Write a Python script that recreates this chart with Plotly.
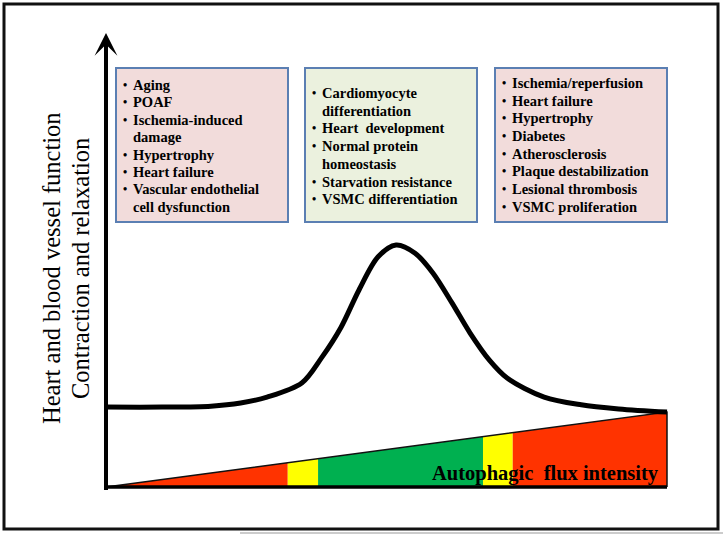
import plotly.graph_objects as go

# autophagic flux (x, 0-100) vs heart / vessel function (y, 0-100)
flux = [0, 10, 18.7, 24, 28.7, 34.9, 38.5, 41.9, 45.1, 48.5, 51.7, 55.1,
        58.3, 61.7, 64.9, 68.3, 71.5, 78.1, 84.7, 91.4, 100]
function = [17.6, 17.6, 17.8, 18.5, 19.8, 22.9, 28.6, 35.2, 43.4, 50.7, 53.3, 51.5,
            47.1, 40.5, 33.9, 28.0, 24.0, 19.8, 18.1, 17.2, 16.5]

# coloured wedge along the x axis
zone_edges = [0, 32.4, 37.8, 67.2, 72.5, 100]
zone_colors = ["#ff3300", "#ffff00", "#00b050", "#ffff00", "#ff3300"]
wedge_top = 16.5

box_lines = [
    ["• Aging", "• POAF", "• Ischemia-induced", "  damage", "• Hypertrophy",
     "• Heart failure", "• Vascular endothelial", "  cell dysfunction"],
    ["• Cardiomyocyte", "  differentiation", "• Heart  development", "• Normal protein",
     "  homeostasis", "• Starvation resistance", "• VSMC differentiation"],
    ["• Ischemia/reperfusion", "• Heart failure", "• Hypertrophy", "• Diabetes",
     "• Atherosclerosis", "• Plaque destabilization", "• Lesional thrombosis",
     "• VSMC proliferation"],
]
box_fills = ["#f2dcdb", "#ebf1de", "#f2dcdb"]

W, H = 723, 534
SERIF = "Liberation Serif, Times New Roman, serif"


def px(x):
    return x / W


def py(y):
    return 1 - y / H


fig = go.Figure()

# wedge zones
for i, col in enumerate(zone_colors):
    a, b = zone_edges[i], zone_edges[i + 1]
    fig.add_trace(go.Scatter(
        x=[a, b, b, a, a],
        y=[0, 0, wedge_top * b / 100, wedge_top * a / 100, 0],
        fill="toself", fillcolor=col, mode="none", hoverinfo="skip"))

# wedge outline
fig.add_trace(go.Scatter(
    x=[0, 100, 100], y=[0, wedge_top, 0], mode="lines",
    line=dict(color="#111111", width=1.5), hoverinfo="skip"))

# function curve
fig.add_trace(go.Scatter(
    x=flux, y=function, mode="lines",
    line=dict(color="black", width=5, shape="spline", smoothing=0.9)))

shapes = [
    # outer frame
    dict(type="rect", xref="paper", yref="paper", x0=px(4), x1=px(718), y0=py(529), y1=py(4),
         line=dict(color="#111111", width=3)),
    dict(type="line", xref="paper", yref="paper", x0=px(240), x1=px(723), y0=py(533), y1=py(533),
         line=dict(color="#cccccc", width=2)),
    # x axis baseline
    dict(type="line", xref="x", yref="y", x0=0, x1=100, y0=0, y1=0,
         line=dict(color="black", width=3.5)),
]

box_x = [(116, 288), (305, 477), (495, 667)]
box_first = [85, 93, 83]
box_step = [17.4, 17.7, 17.7]
annotations = []
for k, (x0, x1) in enumerate(box_x):
    shapes.append(dict(type="rect", xref="paper", yref="paper",
                       x0=px(x0), x1=px(x1), y0=py(222), y1=py(68),
                       fillcolor=box_fills[k], line=dict(color="#5b7fb3", width=2),
                       layer="below"))
    bx = x0 + 5
    for j, line in enumerate(box_lines[k]):
        yy = box_first[k] + j * box_step[k]
        if line.startswith("•"):
            annotations.append(dict(text="<b>•</b>", x=px(bx), y=py(yy), xref="paper", yref="paper",
                                    xanchor="left", yanchor="middle", showarrow=False,
                                    font=dict(family=SERIF, size=12, color="black")))
        annotations.append(dict(text="<b>" + line[2:] + "</b>", x=px(bx + 10), y=py(yy),
                                xref="paper", yref="paper", xanchor="left", yanchor="middle",
                                showarrow=False,
                                font=dict(family=SERIF, size=14.5, color="black")))

# vertical axis with arrow
annotations.append(dict(x=0, y=100, ax=0, ay=-1, xref="x", yref="y", axref="x", ayref="y",
                        text="", showarrow=True, arrowhead=3, arrowsize=0.95,
                        arrowwidth=4, arrowcolor="black"))

# axis titles
annotations.append(dict(text="Heart and blood vessel function", x=px(51), y=py(268),
                        xref="paper", yref="paper", textangle=-90, showarrow=False,
                        xanchor="center", yanchor="middle",
                        font=dict(family=SERIF, size=24.5, color="black")))
annotations.append(dict(text="Contraction and relaxation", x=px(80), y=py(269),
                        xref="paper", yref="paper", textangle=-90, showarrow=False,
                        xanchor="center", yanchor="middle",
                        font=dict(family=SERIF, size=24.5, color="black")))
annotations.append(dict(text="<b>Autophagic  flux intensity</b>", x=px(661), y=py(473),
                        xref="paper", yref="paper", showarrow=False,
                        xanchor="right", yanchor="middle",
                        font=dict(family=SERIF, size=20.5, color="black")))

fig.update_layout(
    width=W, height=H,
    margin=dict(l=0, r=0, t=0, b=0),
    paper_bgcolor="white", plot_bgcolor="white",
    showlegend=False,
    xaxis=dict(domain=[0, 1], range=[-106 / 5.61, (W - 106) / 5.61], visible=False, fixedrange=True),
    yaxis=dict(domain=[0, 1], range=[-47 / 4.54, (H - 47) / 4.54], visible=False, fixedrange=True),
    shapes=shapes,
    annotations=annotations,
)

fig.write_html("out.html", config={"displayModeBar": False},
               post_script="document.body.style.margin='0';")
